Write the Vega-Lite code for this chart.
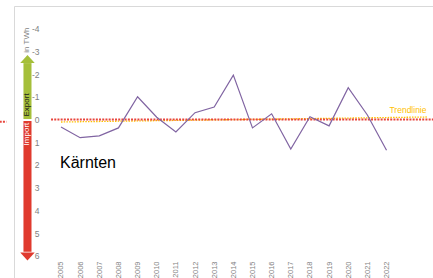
{
  "$schema": "https://vega.github.io/schema/vega-lite/v6.json",
  "autosize": "none",
  "width": 425,
  "height": 290,
  "padding": {"left": 14, "top": 6, "right": 0, "bottom": 0},
  "background": "white",
  "config": {
    "view": {"stroke": "#D9D9D9", "strokeWidth": 1},
    "font": "Liberation Sans"
  },
  "datasets": {
    "series": [
      {"x": 2005, "y": 0.33}, {"x": 2006, "y": 0.8}, {"x": 2007, "y": 0.72},
      {"x": 2008, "y": 0.37}, {"x": 2009, "y": -1.0}, {"x": 2010, "y": -0.1},
      {"x": 2011, "y": 0.55}, {"x": 2012, "y": -0.3}, {"x": 2013, "y": -0.55},
      {"x": 2014, "y": -1.95}, {"x": 2015, "y": 0.37}, {"x": 2016, "y": -0.25},
      {"x": 2017, "y": 1.3}, {"x": 2018, "y": -0.12}, {"x": 2019, "y": 0.28},
      {"x": 2020, "y": -1.4}, {"x": 2021, "y": -0.2}, {"x": 2022, "y": 1.35}
    ],
    "zero": [{"x": 2004.48, "x2": 2024.8, "y": 0}],
    "leftdots": [{"x": 2001.8, "x2": 2002.15, "y": 0.1}],
    "trend": [{"x": 2005, "y": 0.11, "x2": 2024.1, "y2": -0.11}],
    "shafts": [
      {"x": 2003.04, "x2": 2003.46, "y": -2.48, "y2": -0.02, "c": "export"},
      {"x": 2003.04, "x2": 2003.46, "y": 0.07, "y2": 5.82, "c": "import"}
    ],
    "heads": [
      {"x": 2003.25, "y": -2.66, "c": "export"},
      {"x": 2003.25, "y": 6.02, "c": "import"}
    ],
    "unit": [{"x": 2003.25, "y": -3.49, "t": "in TWh"}],
    "export": [{"x": 2003.25, "y": -0.64, "t": "Export"}],
    "import": [{"x": 2003.25, "y": 0.64, "t": "Import"}],
    "region": [{"x": 2006.41, "y": 1.91, "t": "Kärnten"}],
    "trendlabel": [{"x": 2023.12, "y": -0.42, "t": "Trendlinie"}]
  },
  "encoding": {
    "x": {
      "field": "x", "type": "quantitative",
      "scale": {"domain": [2002.546, 2024.74], "nice": false, "zero": false},
      "axis": {
        "title": null, "domain": false, "ticks": false, "grid": false,
        "values": [2005,2006,2007,2008,2009,2010,2011,2012,2013,2014,2015,2016,2017,2018,2019,2020,2021,2022],
        "labelExpr": "'' + datum.value",
        "labelAngle": -90, "labelFontSize": 7.5, "labelColor": "#7F7F7F",
        "labelPadding": 0, "offset": -35, "labelOverlap": false, "labelFlush": false
      }
    },
    "y": {
      "field": "y", "type": "quantitative",
      "scale": {"domain": [-4.99, 7.76], "nice": false, "zero": false, "reverse": true},
      "axis": {
        "title": null, "domain": false, "ticks": false, "grid": false,
        "values": [-4,-3,-2,-1,0,1,2,3,4,5,6],
        "labelExpr": "'' + datum.value",
        "labelFontSize": 8.5, "labelColor": "#7F7F7F",
        "labelPadding": 2, "offset": -27, "labelOverlap": false, "labelFlush": false
      }
    }
  },
  "layer": [
    {
      "data": {"name": "shafts"},
      "mark": {"type": "rect"},
      "encoding": {
        "x2": {"field": "x2"}, "y2": {"field": "y2"},
        "color": {"field": "c", "type": "nominal", "scale": {"domain": ["export", "import"], "range": ["#A5BF3A", "#E03A2E"]}, "legend": null}
      }
    },
    {
      "data": {"name": "heads"},
      "mark": {"type": "point", "filled": true, "opacity": 1, "size": 210, "strokeWidth": 0},
      "encoding": {
        "color": {"field": "c", "type": "nominal", "scale": {"domain": ["export", "import"], "range": ["#A5BF3A", "#E03A2E"]}, "legend": null},
        "shape": {"field": "c", "type": "nominal", "scale": {"domain": ["export", "import"], "range": ["M-1,0.55L0,-0.55L1,0.55Z", "M-1,-0.55L0,0.55L1,-0.55Z"]}, "legend": null}
      }
    },
    {
      "data": {"name": "unit"},
      "mark": {"type": "text", "angle": 270, "fontSize": 8, "color": "#7F7F7F", "align": "center", "baseline": "middle"},
      "encoding": {"text": {"field": "t"}}
    },
    {
      "data": {"name": "export"},
      "mark": {"type": "text", "angle": 270, "fontSize": 8, "color": "#1A1A1A", "align": "center", "baseline": "middle"},
      "encoding": {"text": {"field": "t"}}
    },
    {
      "data": {"name": "import"},
      "mark": {"type": "text", "angle": 270, "fontSize": 8, "color": "white", "align": "center", "baseline": "middle"},
      "encoding": {"text": {"field": "t"}}
    },
    {
      "data": {"name": "trend"},
      "mark": {"type": "rule", "color": "#FFC000", "strokeWidth": 1.3, "strokeDash": [1.5, 1.2]},
      "encoding": {"x2": {"field": "x2"}, "y2": {"field": "y2"}}
    },
    {
      "data": {"name": "zero"},
      "mark": {"type": "rule", "color": "#E8453C", "strokeWidth": 2, "strokeDash": [2, 1.2]},
      "encoding": {"x2": {"field": "x2"}}
    },
    {
      "data": {"name": "leftdots"},
      "mark": {"type": "rule", "color": "#E8453C", "strokeWidth": 2, "strokeDash": [2, 1.2]},
      "encoding": {"x2": {"field": "x2"}}
    },
    {
      "data": {"name": "series"},
      "mark": {"type": "line", "color": "#8064A2", "strokeWidth": 1.2}
    },
    {
      "data": {"name": "region"},
      "mark": {"type": "text", "fontSize": 16, "color": "#000000", "align": "center", "baseline": "middle"},
      "encoding": {"text": {"field": "t"}}
    },
    {
      "data": {"name": "trendlabel"},
      "mark": {"type": "text", "fontSize": 8.5, "color": "#FFC000", "align": "center", "baseline": "middle"},
      "encoding": {"text": {"field": "t"}}
    }
  ]
}
